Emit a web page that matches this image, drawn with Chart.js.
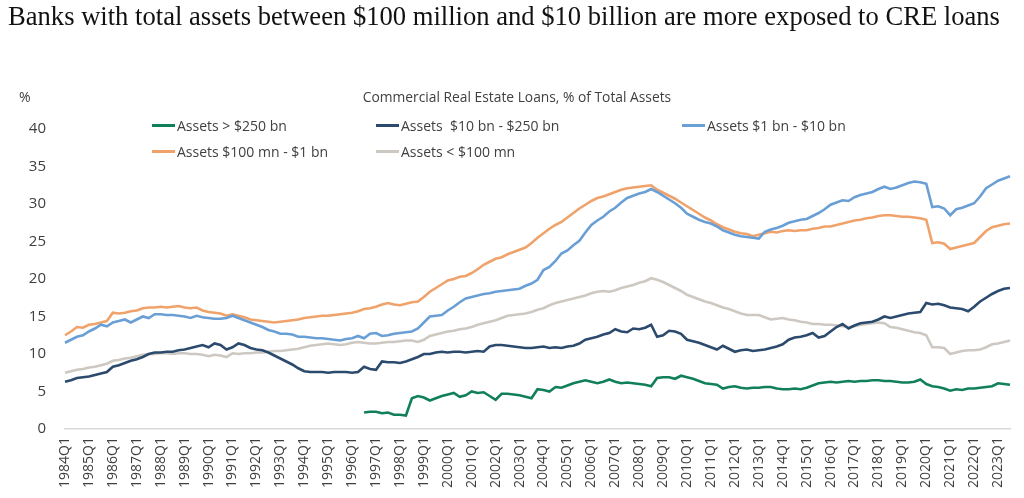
<!DOCTYPE html>
<html>
<head>
<meta charset="utf-8">
<script src="https://cdn.jsdelivr.net/npm/chart.js@4.4.1/dist/chart.umd.min.js"></script>
<style>
  html, body { margin: 0; padding: 0; background: #ffffff; }
  #wrap { position: relative; width: 1024px; height: 498px; overflow: hidden; background: #fff; }
  #chart { position: absolute; left: 0; top: 0; }
  #title { position: absolute; left: 8px; top: 1px; font-family: "Liberation Serif", "DejaVu Serif", serif; font-size: 26.6px; color: #111; white-space: nowrap; }
  #subtitle { position: absolute; left: 517px; top: 87px; transform: translateX(-50%); font-family: "Open Sans", "Noto Sans", sans-serif; font-size: 13.8px; color: #404040; white-space: nowrap; }
  #unit { position: absolute; left: 19px; top: 87px; font-family: "Open Sans", "Noto Sans", sans-serif; font-size: 14px; color: #404040; }
  .leg { position: absolute; font-family: "Open Sans", "Noto Sans", sans-serif; font-size: 14px; color: #404040; white-space: pre; display: flex; align-items: center; }
  .leg span.sw { display: inline-block; width: 23px; height: 3px; margin-right: 2px; }
</style>
</head>
<body>
<div id="wrap">
  <canvas id="chart" width="1024" height="498"></canvas>
  <div id="title">Banks with total assets between $100 million and $10 billion are more exposed to CRE loans</div>
  <div id="subtitle">Commercial Real Estate Loans, % of Total Assets</div>
  <div id="unit">%</div>
  <div id="legend"></div>
</div>
<script>
// ---- categories ----
const years = [1984,1985,1986,1987,1988,1989,1990,1991,1992,1993,1994,1995,1996,1997,1998,1999,2000,2001,2002,2003,2004,2005,2006,2007,2008,2009,2010,2011,2012,2013,2014,2015,2016,2017,2018,2019,2020,2021,2022,2023];
const quarters = ['Q1','Q2','Q3','Q4'];
const lastYearQuarters = 3; // data ends 2023Q3
const labels = [];
years.forEach((y, yi) => {
  const n = (yi === years.length - 1) ? lastYearQuarters : 4;
  for (let q = 0; q < n; q++) labels.push(y + quarters[q]);
});

// ---- series names ----
const seriesNames = ['Assets > $250 bn', 'Assets  $10 bn - $250 bn', 'Assets $1 bn - $10 bn', 'Assets $100 mn - $1 bn', 'Assets < $100 mn'];

// ---- series values (% of total assets), 1984Q1 .. 2023Q3 ----
const over250bn = [
  null,null,null,null, null,null,null,null, null,null,null,null, null,null,null,null, null,null,null,null,
  null,null,null,null, null,null,null,null, null,null,null,null, null,null,null,null, null,null,null,null,
  null,null,null,null, null,null,null,null, null,null,2.2,2.3,
  2.3,2.1,2.2,1.9, 1.9,1.8,4.1,4.4, 4.2,3.8,4.1,4.4, 4.6,4.8,4.3,4.5, 5.0,4.8,4.9,4.4,
  3.9,4.7,4.7,4.6, 4.5,4.3,4.1,5.3, 5.2,5.0,5.6,5.5, 5.8,6.1,6.3,6.5, 6.3,6.1,6.3,6.6,
  6.3,6.1,6.2,6.1, 6.0,5.9,5.7,6.8, 6.9,6.9,6.7,7.1, 6.9,6.7,6.4,6.1, 6.0,5.9,5.4,5.6,
  5.7,5.5,5.4,5.5, 5.5,5.6,5.6,5.4, 5.3,5.3,5.4,5.3, 5.5,5.8,6.1,6.2, 6.3,6.2,6.3,6.4,
  6.3,6.4,6.4,6.5, 6.5,6.4,6.4,6.3, 6.2,6.2,6.3,6.6, 6.0,5.7,5.6,5.4, 5.1,5.3,5.2,5.4,
  5.4,5.5,5.6,5.7, 6.1,6.0,5.9
];
const from10to250bn = [
  6.3,6.5,6.8,6.9, 7.0,7.2,7.4,7.6, 8.3,8.5,8.8,9.1, 9.3,9.6,10.0,10.2, 10.2,10.3,10.3,10.5,
  10.6,10.8,11.0,11.2, 10.9,11.4,11.2,10.6, 10.9,11.4,11.2,10.8, 10.6,10.5,10.2,9.8, 9.4,9.0,8.6,8.1,
  7.7,7.6,7.6,7.6, 7.5,7.6,7.6,7.6, 7.5,7.6,8.3,8.0, 7.9,9.0,8.9,8.9, 8.8,9.0,9.3,9.6,
  10.0,10.0,10.2,10.3, 10.2,10.3,10.3,10.2, 10.3,10.4,10.3,11.0, 11.2,11.2,11.1,11.0, 10.9,10.8,10.8,10.9,
  11.0,10.8,10.9,10.8, 11.0,11.1,11.4,11.9, 12.1,12.3,12.6,12.8, 13.3,13.0,12.9,13.4, 13.3,13.5,13.9,12.3,
  12.5,13.1,13.0,12.7, 11.9,11.7,11.5,11.2, 10.9,10.6,11.1,10.7, 10.3,10.5,10.6,10.4, 10.5,10.6,10.8,11.0,
  11.3,11.9,12.2,12.3, 12.5,12.8,12.2,12.4, 13.0,13.6,14.0,13.4, 13.8,14.1,14.2,14.3, 14.6,15.0,14.8,15.0,
  15.2,15.4,15.5,15.6, 16.8,16.6,16.7,16.5, 16.2,16.1,16.0,15.7, 16.3,17.0,17.5,18.0, 18.4,18.7,18.8
];
const from1to10bn = [
  11.5,11.9,12.3,12.5, 13.0,13.4,13.9,13.7, 14.2,14.4,14.6,14.2, 14.6,15.0,14.8,15.3, 15.3,15.2,15.2,15.1,
  15.0,14.8,15.1,14.9, 14.8,14.7,14.7,14.8, 15.1,14.8,14.5,14.2, 13.9,13.6,13.2,13.0, 12.7,12.7,12.6,12.3,
  12.3,12.2,12.1,12.1, 12.0,11.9,11.8,12.0, 12.1,12.4,12.1,12.7, 12.8,12.4,12.5,12.7, 12.8,12.9,13.0,13.4,
  14.2,15.0,15.1,15.2, 15.8,16.3,16.9,17.4, 17.6,17.8,18.0,18.1, 18.3,18.4,18.5,18.6, 18.7,19.1,19.4,19.9,
  21.2,21.6,22.4,23.4, 23.8,24.5,25.1,26.2, 27.2,27.8,28.3,29.0, 29.5,30.2,30.8,31.1, 31.4,31.6,32.0,31.6,
  31.1,30.6,30.1,29.5, 28.7,28.3,27.9,27.6, 27.4,27.0,26.5,26.2, 25.9,25.7,25.6,25.5, 25.4,26.3,26.6,26.8,
  27.1,27.5,27.7,27.9, 28.0,28.4,28.8,29.3, 29.9,30.2,30.5,30.4, 30.9,31.2,31.4,31.6, 32.0,32.3,32.0,32.2,
  32.5,32.8,33.0,32.9, 32.7,29.6,29.7,29.4, 28.5,29.3,29.5,29.8, 30.1,31.0,32.1,32.6, 33.1,33.4,33.7
];
const from100mnto1bn = [
  12.5,13.0,13.6,13.5, 13.9,14.0,14.2,14.4, 15.5,15.4,15.5,15.7, 15.8,16.1,16.2,16.2, 16.3,16.2,16.3,16.4,
  16.2,16.1,16.2,15.8, 15.6,15.5,15.4,15.1, 15.3,15.1,14.9,14.6, 14.5,14.4,14.3,14.2, 14.3,14.4,14.5,14.6,
  14.8,14.9,15.0,15.1, 15.1,15.2,15.3,15.4, 15.5,15.7,16.0,16.1, 16.3,16.6,16.8,16.6, 16.5,16.7,16.9,17.0,
  17.6,18.3,18.8,19.3, 19.8,20.0,20.3,20.4, 20.8,21.3,21.9,22.3, 22.7,22.9,23.3,23.6, 23.9,24.2,24.8,25.5,
  26.1,26.7,27.2,27.6, 28.2,28.8,29.4,29.9, 30.4,30.8,31.0,31.3, 31.6,31.9,32.1,32.2, 32.3,32.4,32.5,31.9,
  31.5,31.1,30.7,30.2, 29.7,29.2,28.7,28.2, 27.8,27.3,26.9,26.6, 26.3,26.1,26.0,25.7, 25.9,26.1,26.3,26.2,
  26.4,26.5,26.4,26.5, 26.5,26.7,26.8,27.0, 27.0,27.2,27.4,27.6, 27.8,27.9,28.1,28.2, 28.4,28.5,28.5,28.4,
  28.3,28.3,28.2,28.1, 27.9,24.8,24.9,24.7, 24.0,24.2,24.4,24.6, 24.8,25.6,26.4,26.9, 27.1,27.3,27.4
];
const under100mn = [
  7.5,7.7,7.9,8.0, 8.2,8.3,8.5,8.7, 9.1,9.2,9.4,9.5, 9.7,9.9,10.0,10.0, 10.1,10.1,10.0,10.1,
  10.1,10.0,10.0,9.9, 9.7,9.9,9.8,9.6, 10.1,10.0,10.1,10.1, 10.2,10.2,10.3,10.4, 10.4,10.5,10.6,10.7,
  10.9,11.1,11.2,11.3, 11.4,11.3,11.2,11.3, 11.5,11.6,11.5,11.4, 11.4,11.5,11.6,11.6, 11.7,11.8,11.8,11.6,
  11.9,12.4,12.6,12.8, 13.0,13.1,13.3,13.4, 13.6,13.9,14.1,14.3, 14.5,14.8,15.1,15.2, 15.3,15.4,15.6,15.9,
  16.1,16.5,16.8,17.0, 17.2,17.4,17.6,17.8, 18.1,18.3,18.4,18.3, 18.5,18.8,19.0,19.2, 19.5,19.7,20.1,19.9,
  19.6,19.2,18.8,18.4, 17.9,17.6,17.3,17.0, 16.8,16.5,16.2,16.0, 15.7,15.4,15.2,15.2, 15.2,14.9,14.6,14.7,
  14.8,14.6,14.5,14.3, 14.2,14.0,14.0,13.9, 13.9,13.8,13.7,13.6, 13.7,13.9,14.0,14.1, 14.2,14.1,13.6,13.5,
  13.3,13.1,12.9,12.8, 12.5,10.9,10.9,10.8, 10.0,10.2,10.4,10.5, 10.5,10.6,10.9,11.3, 11.4,11.6,11.8
];

// ---- y-axis ticks ----
const yTicks = [0,5,10,15,20,25,30,35,40];

// ---- styles ----
const colors = ['#11805a', '#2b4a6d', '#6a9fd5', '#f0a26b', '#cdc8c1'];
const seriesValues = [over250bn, from10to250bn, from1to10bn, from100mnto1bn, under100mn];

const datasets = seriesValues.map((vals, k) => ({
  label: seriesNames[k],
  data: vals,
  borderColor: colors[k],
  backgroundColor: colors[k],
  borderWidth: 2.6,
  pointRadius: 0,
  pointHoverRadius: 0,
  tension: 0,
  spanGaps: false,
  fill: false
}));

const FONT = '"Open Sans", "Noto Sans", sans-serif';

const chart = new Chart(document.getElementById('chart'), {
  type: 'line',
  data: { labels: labels, datasets: datasets },
  options: {
    responsive: false,
    animation: false,
    devicePixelRatio: 1,
    layout: { padding: { top: 129, right: 14, left: 0, bottom: 0 } },
    plugins: { legend: { display: false }, title: { display: false }, tooltip: { enabled: false } },
    scales: {
      x: {
        type: 'category',
        offset: false,
        grid: { display: false, drawTicks: false },
        border: { display: true, color: '#d9d9d9', width: 1.5 },
        ticks: {
          autoSkip: false,
          maxRotation: 90,
          minRotation: 90,
          padding: 8,
          color: '#404040',
          font: { family: FONT, size: 14 },
          callback: function(v, i) { const l = labels[i]; return l.endsWith('Q1') ? l : null; }
        },
        afterFit: function(scale) { scale.height = 69; }
      },
      y: {
        min: 0,
        max: 40,
        afterBuildTicks: function(scale) { scale.ticks = yTicks.map(v => ({ value: v })); },
        grid: { display: false, drawTicks: false },
        border: { display: false },
        ticks: {
          padding: 19,
          color: '#404040',
          font: { family: FONT, size: 15 }
        },
        afterFit: function(scale) { scale.width = 65; }
      }
    }
  }
});

// ---- HTML legend built from the datasets ----
const legendPos = [[152, 116], [376, 116], [682, 116], [152, 142], [376, 142]];
const legendEl = document.getElementById('legend');
chart.data.datasets.forEach((ds, k) => {
  const d = document.createElement('div');
  d.className = 'leg';
  d.style.left = legendPos[k][0] + 'px';
  d.style.top = legendPos[k][1] + 'px';
  const sw = document.createElement('span');
  sw.className = 'sw';
  sw.style.background = ds.borderColor;
  d.appendChild(sw);
  d.appendChild(document.createTextNode(ds.label));
  legendEl.appendChild(d);
});
</script>
</body>
</html>
